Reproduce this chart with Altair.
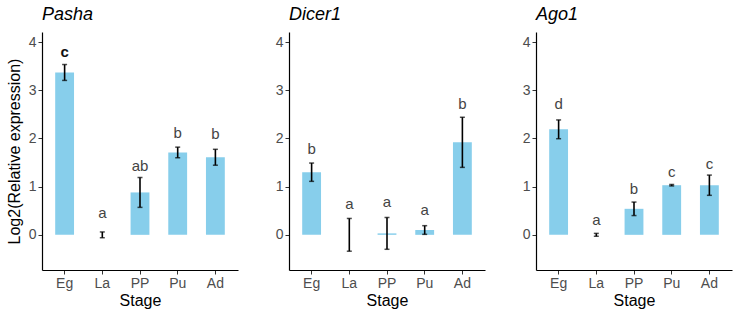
import altair as alt
import pandas as pd

genes = ["Pasha", "Dicer1", "Ago1"]
stages = ["Eg", "La", "PP", "Pu", "Ad"]

pasha_mean = [3.37, 0.0, 0.88, 1.71, 1.61]
pasha_se = [0.165, 0.06, 0.31, 0.11, 0.165]
pasha_letter = ["c", "a", "ab", "b", "b"]
pasha_letter_y = [3.79, 0.46, 1.43, 2.12, 2.10]

dicer_mean = [1.30, 0.0, 0.03, 0.10, 1.92]
dicer_se = [0.19, 0.34, 0.33, 0.09, 0.52]
dicer_letter = ["b", "a", "a", "a", "b"]
dicer_letter_y = [1.79, 0.64, 0.68, 0.51, 2.72]

ago_mean = [2.19, 0.0, 0.54, 1.03, 1.03]
ago_se = [0.195, 0.03, 0.14, 0.015, 0.21]
ago_letter = ["d", "a", "b", "c", "c"]
ago_letter_y = [2.72, 0.30, 0.95, 1.31, 1.47]

y_ticks = [0, 1, 2, 3, 4]
y_domain = [-0.73, 4.21]

FONT = "Liberation Sans"

series = {
    "Pasha": (pasha_mean, pasha_se, pasha_letter, pasha_letter_y),
    "Dicer1": (dicer_mean, dicer_se, dicer_letter, dicer_letter_y),
    "Ago1": (ago_mean, ago_se, ago_letter, ago_letter_y),
}

is_bold = (alt.datum.gene == "Pasha") & (alt.datum.stage == "Eg")


def panel(gene, first):
    m, s, l, ly = series[gene]
    df = pd.DataFrame({
        "stage": stages,
        "mean": m,
        "lo": [a - b for a, b in zip(m, s)],
        "hi": [a + b for a, b in zip(m, s)],
        "letter": l,
        "ly": ly,
        "gene": gene,
    })
    x = alt.X("stage:N", sort=stages,
              scale=alt.Scale(paddingInner=0.5, paddingOuter=0.35),
              axis=alt.Axis(title="Stage", labelAngle=0))
    yaxis = alt.Axis(values=y_ticks, grid=False,
                     title="Log2(Relative expression)" if first else None)
    yscale = alt.Scale(domain=y_domain, nice=False, zero=False)
    base = alt.Chart(df)
    bars = base.mark_bar(color="#87CEEB").encode(
        x=x, y=alt.Y("mean:Q", scale=yscale, axis=yaxis))
    rule = base.mark_rule(color="black", strokeWidth=1.6).encode(
        x=x, y=alt.Y("lo:Q"), y2="hi:Q")
    cap_lo = base.mark_tick(color="black", thickness=1.5, size=5).encode(
        x=x, y=alt.Y("lo:Q"))
    cap_hi = base.mark_tick(color="black", thickness=1.5, size=5).encode(
        x=x, y=alt.Y("hi:Q"))
    txt = base.transform_filter(~is_bold).mark_text(
        fontSize=15, font=FONT, baseline="middle", color="#444444").encode(
        x=x, y=alt.Y("ly:Q"), text="letter:N")
    txt_b = base.transform_filter(is_bold).mark_text(
        fontSize=15, font=FONT, baseline="middle", color="#111111",
        fontWeight="bold").encode(
        x=x, y=alt.Y("ly:Q"), text="letter:N")
    return alt.layer(bars, rule, cap_lo, cap_hi, txt, txt_b).properties(
        width=196, height=238,
        title=alt.TitleParams(gene, anchor="start", frame="group",
                              fontStyle="italic",
                              fontSize=18, font=FONT, fontWeight="normal",
                              color="black", offset=8),
    )


chart = alt.hconcat(
    panel("Pasha", True), panel("Dicer1", False), panel("Ago1", False),
    spacing=51, bounds="flush",
).properties(
    padding={"left": 6, "top": 6, "right": 5, "bottom": 5}
).configure_view(strokeWidth=0).configure_axis(
    labelFont=FONT, titleFont=FONT, labelFontSize=14, titleFontSize=16,
    labelColor="#4D4D4D", titleColor="black", titleFontWeight="normal",
    domainColor="black", domainWidth=1.2, tickColor="#333333", tickSize=4,
    labelPadding=2,
).configure_axisX(titlePadding=2).configure_axisY(titlePadding=6)

chart.save("out.html", embed_options={"renderer": "svg", "actions": False})
